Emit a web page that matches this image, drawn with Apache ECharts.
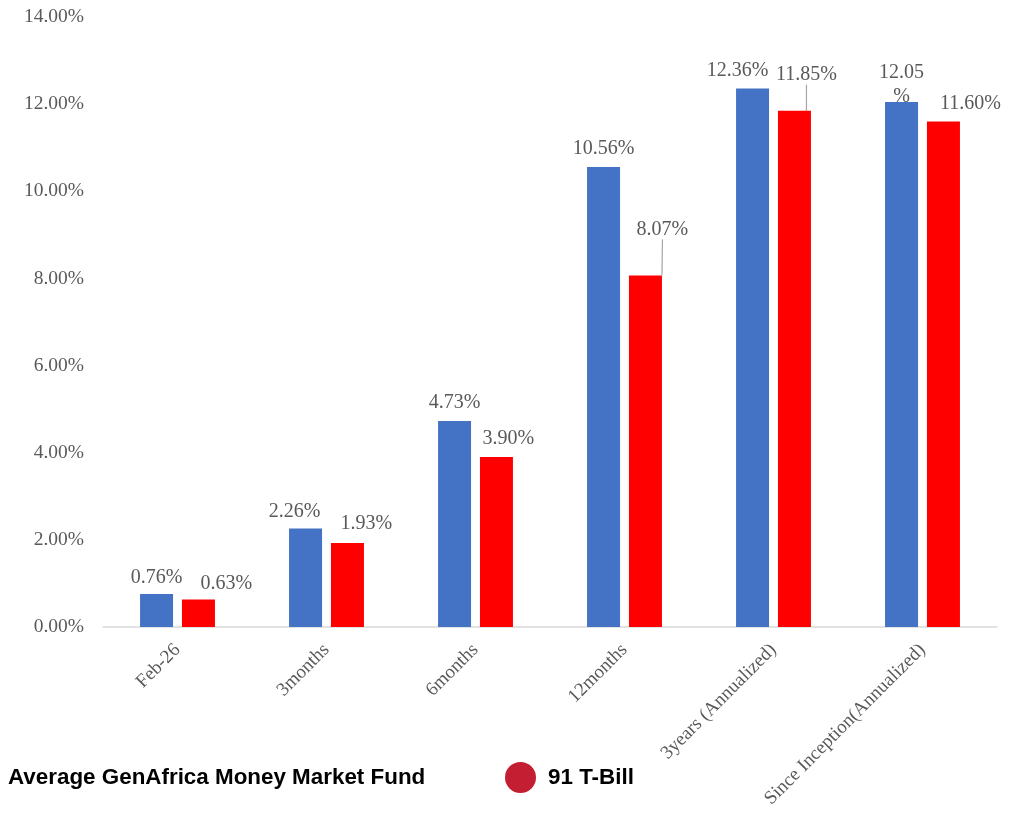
<!DOCTYPE html>
<html>
<head>
<meta charset="utf-8">
<script src="https://cdn.jsdelivr.net/npm/echarts@6/dist/echarts.min.js"></script>
<style>
  html, body { margin: 0; padding: 0; background: #fff; }
  #chart { width: 1030px; height: 816px; }
</style>
</head>
<body>
<div id="chart"></div>
<script>
const categories = ['Feb-26', '3months', '6months', '12months', '3years (Annualized)', 'Since Inception(Annualized)'];
const fundValues = [0.76, 2.26, 4.73, 10.56, 12.36, 12.05];
const tbillValues = [0.63, 1.93, 3.90, 8.07, 11.85, 11.60];
const yTicks = [0, 2, 4, 6, 8, 10, 12, 14];

// label nudges (dx, dy) to mimic the original placement
const fundLabelShift = [[0, 2], [-11, 1], [0, 0], [0, 0], [-15, 0], [0, 15]];
const tbillLabelShift = [[28, 2], [19, -1], [12, 0], [17, -28], [12, -18], [27, 0]];
const tbillLeader = [false, false, false, true, true, false];

const serif = '"Liberation Serif", "DejaVu Serif", serif';
const sans = '"Liberation Sans", Arial, sans-serif';
const labelStyle = {
  show: true,
  position: 'top',
  distance: 8,
  fontFamily: serif,
  fontSize: 20,
  color: '#595959',
  formatter: (p) => p.value.toFixed(2) + '%',
};
const leaderStyle = { color: '#a6a6a6', width: 1.2 };

const chart = echarts.init(document.getElementById('chart'));
chart.setOption({
  backgroundColor: '#fff',
  animation: false,
  grid: { left: 103, right: 33, top: 17, bottom: 189 },
  legend: [
    {
      left: 3,
      top: 762,
      padding: 0,
      itemWidth: 0,
      itemHeight: 32,
      selectedMode: false,
      data: [{ name: 'Average GenAfrica Money Market Fund', icon: 'none' }],
      textStyle: { fontFamily: sans, fontSize: 22.4, fontWeight: 'bold', color: '#000' },
    },
    {
      left: 505,
      top: 762,
      padding: 0,
      itemWidth: 45,
      itemHeight: 31,
      selectedMode: false,
      data: [{ name: '91 T-Bill', icon: 'circle', itemStyle: { color: '#C41E33' } }],
      textStyle: { fontFamily: sans, fontSize: 22.4, fontWeight: 'bold', color: '#000' },
    },
  ],
  xAxis: {
    type: 'category',
    data: categories,
    axisLine: { lineStyle: { color: '#d9d9d9', width: 1.5 } },
    axisTick: { show: false },
    axisLabel: {
      rotate: 45,
      interval: 0,
      margin: 20,
      fontFamily: serif,
      fontSize: 19,
      color: '#595959',
    },
  },
  yAxis: {
    type: 'value',
    min: 0,
    max: 14,
    interval: 2,
    splitLine: { show: false },
    axisLine: { show: false },
    axisTick: { show: false },
    axisLabel: {
      margin: 19,
      fontFamily: serif,
      fontSize: 19.5,
      color: '#595959',
      formatter: (v) => (yTicks.includes(v) ? v.toFixed(2) + '%' : ''),
    },
  },
  series: [
    {
      name: 'Average GenAfrica Money Market Fund',
      type: 'bar',
      barWidth: 33,
      barGap: '27%',
      itemStyle: { color: '#4472C4' },
      label: labelStyle,
      data: fundValues.map((v, i) =>
        i === 5
          ? { value: v, label: { formatter: '12.05\n%', lineHeight: 24 } }
          : v
      ),
      labelLayout: (p) => ({ dx: fundLabelShift[p.dataIndex][0], dy: fundLabelShift[p.dataIndex][1] }),
    },
    {
      name: '91 T-Bill',
      type: 'bar',
      barWidth: 33,
      itemStyle: { color: '#FF0000' },
      label: labelStyle,
      labelLine: { show: false, lineStyle: leaderStyle },
      data: tbillValues.map((v, i) =>
        tbillLeader[i] ? { value: v, labelLine: { show: true, lineStyle: leaderStyle } } : v
      ),
      labelLayout: (p) => ({ dx: tbillLabelShift[p.dataIndex][0], dy: tbillLabelShift[p.dataIndex][1] }),
    },
  ],
});
</script>
</body>
</html>
